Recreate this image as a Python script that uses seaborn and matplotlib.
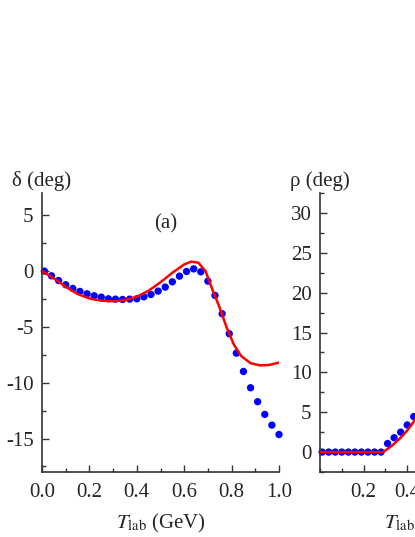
import numpy as np
import pandas as pd
import matplotlib
matplotlib.use("Agg")
import matplotlib.pyplot as plt
import seaborn as sns
from matplotlib.ticker import MultipleLocator

# ---- data: panel (a) delta ----
t_dots_a = [0.01, 0.04, 0.07, 0.10, 0.13, 0.16, 0.19, 0.22, 0.25, 0.28,
            0.31, 0.34, 0.37, 0.40, 0.43, 0.46, 0.49, 0.52, 0.55, 0.58,
            0.61, 0.64, 0.67, 0.70, 0.73, 0.76, 0.79, 0.82, 0.85, 0.88,
            0.91, 0.94, 0.97, 1.00]
delta_dots = [0.0, -0.42, -0.84, -1.22, -1.55, -1.82, -2.03, -2.21, -2.33, -2.48,
              -2.51, -2.54, -2.51, -2.48, -2.30, -2.09, -1.79, -1.43, -0.96, -0.45,
              -0.03, 0.20, -0.06, -0.90, -2.18, -3.82, -5.61, -7.35, -8.99, -10.45,
              -11.70, -12.84, -13.80, -14.64]
t_line_a = [0.00, 0.05, 0.10, 0.15, 0.20, 0.25, 0.30, 0.35, 0.40, 0.45,
            0.50, 0.55, 0.60, 0.63, 0.66, 0.69, 0.72, 0.75, 0.78, 0.81,
            0.84, 0.88, 0.92, 0.96, 1.00]
delta_line = [0.0, -0.65, -1.40, -2.05, -2.45, -2.65, -2.70, -2.60, -2.30, -1.75,
              -1.00, -0.15, 0.60, 0.85, 0.75, 0.00, -1.70, -3.30, -5.10, -6.60,
              -7.60, -8.25, -8.45, -8.40, -8.20]

# ---- data: panel (b) rho ----
t_dots_b = [0.01, 0.04, 0.07, 0.10, 0.13, 0.16, 0.19, 0.22, 0.25, 0.28,
            0.31, 0.34, 0.37, 0.40, 0.43]
rho_dots = [0, 0, 0, 0, 0, 0, 0, 0, 0, 0,
            1.07, 1.8, 2.5, 3.4, 4.45]
t_line_b = [0.00, 0.10, 0.20, 0.29, 0.33, 0.37, 0.40, 0.43, 0.46]
rho_line = [0.0, 0.0, 0.0, 0.0, 0.8, 1.8, 2.7, 3.8, 5.0]

x_ticks = [0.0, 0.2, 0.4, 0.6, 0.8, 1.0]
x_ticks_b = [0.2, 0.4, 0.6, 0.8, 1.0]

sns.set_style("ticks")
plt.rcParams['font.family'] = ['Liberation Serif', 'DejaVu Serif']
plt.rcParams['mathtext.fontset'] = 'stix'
FS = 15

W, H = 415, 537
fig = plt.figure(figsize=(W / 100, H / 100), dpi=100)
fig.patch.set_facecolor('white')

def px_axes(x0, x1, ytop, ybot):
    return fig.add_axes([x0 / W, 1 - ybot / H, (x1 - x0) / W, (ybot - ytop) / H])

ax1 = px_axes(42, 279, 193, 472)
ax2 = px_axes(320, 538, 193, 472)

dfa_d = pd.DataFrame({"T": t_dots_a, "v": delta_dots})
dfa_l = pd.DataFrame({"T": t_line_a, "v": delta_line})
dfb_d = pd.DataFrame({"T": t_dots_b, "v": rho_dots})
dfb_l = pd.DataFrame({"T": t_line_b, "v": rho_line})

for ax, dd, dl in [(ax1, dfa_d, dfa_l), (ax2, dfb_d, dfb_l)]:
    sns.scatterplot(data=dd, x="T", y="v", ax=ax, color="#0000ff", s=28,
                    edgecolor="none", linewidth=0, zorder=2, clip_on=False)
    sns.lineplot(data=dl, x="T", y="v", ax=ax, color="#ff0000", lw=1.8,
                 zorder=3, clip_on=True)
    sns.despine(ax=ax)
    ax.set_xlim(0, 1.0)
    ax.set_xlabel(r"$T_{\rm lab}$ (GeV)", fontsize=FS, labelpad=7)
    ax.set_ylabel("")
    ax.xaxis.set_minor_locator(MultipleLocator(0.1))
    ax.yaxis.set_minor_locator(MultipleLocator(2.5))
    ax.tick_params(which="major", direction="in", length=5, width=1.0,
                   labelsize=FS, color="#333333", pad=6)
    ax.tick_params(which="minor", direction="in", length=3, width=1.0,
                   color="#333333")
    ax.tick_params(axis="x", which="major", pad=8)
    for s in ("left", "bottom"):
        ax.spines[s].set_linewidth(1.2)
        ax.spines[s].set_color("#333333")

ax1.set_ylim(-18, 7)
ax1.set_xticks(x_ticks)
ax1.set_xticklabels([f"{v:.1f}" for v in x_ticks])
ax1.set_yticks([-15, -10, -5, 0, 5])
ax1.set_yticklabels(["-15", "-10", "-5", "0", "5"])
ax1.text(0.0, 1.043, "δ (deg)", transform=ax1.transAxes, ha="center",
         va="center", fontsize=FS)
ax1.text(0.52, 4.2, "(a)", ha="center", va="center", fontsize=FS)

ax2.set_ylim(-2.5, 32.5)
ax2.set_xticks(x_ticks_b)
ax2.set_xticklabels([f"{v:.1f}" for v in x_ticks_b])
ax2.set_yticks([0, 5, 10, 15, 20, 25, 30])
ax2.set_yticklabels(["0", "5", "10", "15", "20", "25", "30"])
ax2.text(0.0, 1.043, "ρ (deg)", transform=ax2.transAxes, ha="center",
         va="center", fontsize=FS)

fig.savefig("out.png", dpi=100)
